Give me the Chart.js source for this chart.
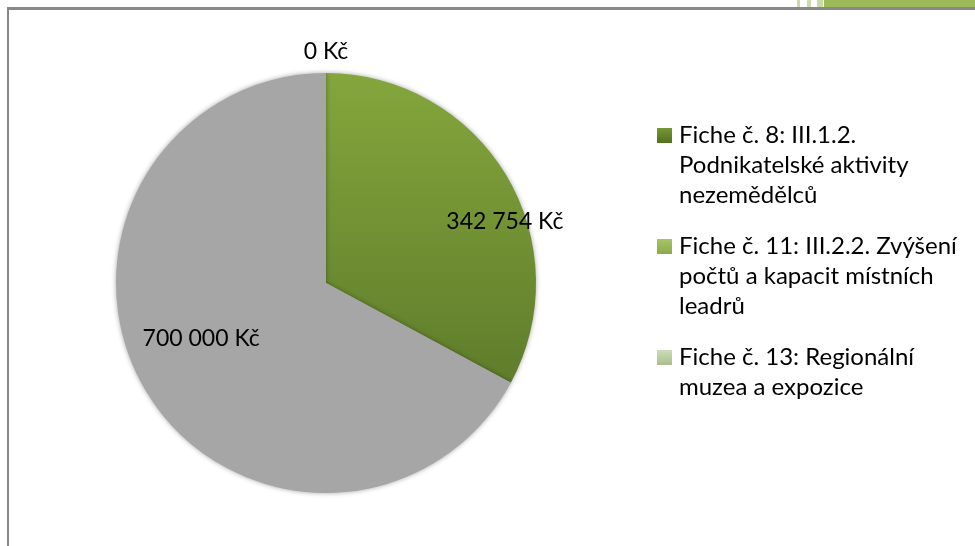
<!DOCTYPE html>
<html>
<head>
<meta charset="utf-8">
<script src="https://cdn.jsdelivr.net/npm/chart.js@4"></script>
<style>
    body { margin: 0; background: #fff; overflow: hidden; }
    #wrap { position: relative; width: 975px; height: 546px; }
    #frame { position: absolute; left: 7px; top: 7px; width: 1000px; height: 600px;
             border-left: 2px solid #888; border-top: 3px solid #888; }
    #band { position: absolute; left: 824px; top: 0; width: 151px; height: 7px; background: #9bbb59; }
    .stripe { position: absolute; top: 0; height: 7px; background: #c9dca6; }
    canvas { position: absolute; left: 0; top: 0; }
</style>
</head>
<body>
<div id="wrap">
    <div id="frame"></div>
    <div id="band"></div>
    <div class="stripe" style="left:797px;width:3px"></div>
    <div class="stripe" style="left:807px;width:4px"></div>
    <div class="stripe" style="left:817px;width:6px"></div>
    <canvas id="pie" width="975" height="546"></canvas>
</div>
<script>
// data
var categories = [
    ["Fiche č. 8: III.1.2.", "Podnikatelské aktivity", "nezemědělců"],
    ["Fiche č. 11: III.2.2. Zvýšení", "počtů a kapacit místních", "leadrů"],
    ["Fiche č. 13: Regionální", "muzea a expozice"]
];
var amounts = [0, 342754, 700000];
var valueLabels = ["0 Kč", "342 754 Kč", "700 000 Kč"];

// legend square colours (top, bottom)
var legendColors = [["#76973a", "#52701f"], ["#a5c468", "#8bab47"], ["#cddcb4", "#a9bf8c"]];
// label placement: angle offset (deg), radius factor
var labelPos = [{da: 0, r: 1.1}, {da: 12, r: 0.9}, {da: 7, r: 0.65}];

var FONT = "Lato, 'Open Sans', sans-serif";

function sliceColor(context) {
    var chart = context.chart;
    var area = chart.chartArea;
    if (!area) return "#a6a6a6";
    if (context.dataIndex === 2) return "#a6a6a6";
    var g = chart.ctx.createLinearGradient(0, area.top, 0, area.top + 310);
    g.addColorStop(0, "#84a63c");
    g.addColorStop(1, "#5f7d2b");
    return g;
}

var shadowPlugin = {
    id: 'shadow',
    beforeDatasetDraw: function (chart) {
        var ctx = chart.ctx;
        ctx.save();
        ctx.shadowColor = "rgba(0,0,0,0.35)";
        ctx.shadowBlur = 5;
    },
    afterDatasetDraw: function (chart) {
        chart.ctx.restore();
    }
};

var labelsPlugin = {
    id: 'labels',
    afterDraw: function (chart) {
        var ctx = chart.ctx;
        var meta = chart.getDatasetMeta(0);
        ctx.save();
        ctx.font = "23px " + FONT;
        ctx.fillStyle = "#000";
        ctx.textAlign = "center";
        ctx.textBaseline = "middle";
        meta.data.forEach(function (arc, i) {
            var p = labelPos[i];
            var a = (arc.startAngle + arc.endAngle) / 2 + p.da * Math.PI / 180;
            var r = arc.outerRadius * p.r;
            ctx.fillText(valueLabels[i], arc.x + r * Math.cos(a), arc.y + r * Math.sin(a));
        });

        // legend
        ctx.font = "24px " + FONT;
        ctx.textAlign = "left";
        ctx.textBaseline = "alphabetic";
        var y = 143;
        categories.forEach(function (lines, i) {
            var g = ctx.createLinearGradient(0, y - 15, 0, y);
            g.addColorStop(0, legendColors[i][0]);
            g.addColorStop(1, legendColors[i][1]);
            ctx.fillStyle = g;
            ctx.fillRect(657, y - 15, 15, 15);
            ctx.fillStyle = "#000";
            lines.forEach(function (t, k) {
                ctx.fillText(t, 679, y + k * 30);
            });
            y += lines.length * 30 + 21;
        });
        ctx.restore();
    }
};

new Chart(document.getElementById('pie'), {
    type: 'pie',
    data: {
        labels: categories.map(function (l) { return l.join(" "); }),
        datasets: [{
            data: amounts,
            backgroundColor: sliceColor,
            borderWidth: 0
        }]
    },
    options: {
        responsive: false,
        animation: false,
        layout: { padding: { left: 116, top: 73, right: 439, bottom: 53 } },
        plugins: {
            legend: { display: false },
            tooltip: { enabled: false }
        }
    },
    plugins: [shadowPlugin, labelsPlugin]
});
</script>
</body>
</html>
